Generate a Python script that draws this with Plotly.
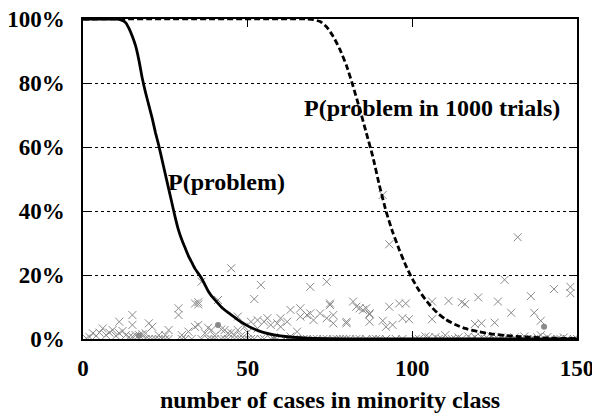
import plotly.graph_objects as go

# P(problem) curve (solid)
p_x = [0, 8, 10, 11, 12, 13, 14, 15, 16, 17, 18, 19, 20, 21, 22, 23, 24, 25, 26, 27, 28, 29, 30,
       31, 32, 33, 34, 35, 36, 37, 38, 39, 40, 42, 44, 46, 48, 50, 52, 55, 58, 62, 66, 70, 80, 90, 150]
p_y = [100, 100, 100, 99.9, 99.5, 98.8, 97, 94.5, 91.5, 87, 81.5, 77, 73, 69, 64.5, 60.5, 56, 51.5, 47,
       42.5, 38, 34, 31, 28.5, 26, 24, 22, 20.5, 19, 17, 15, 13.5, 12.3, 10, 8.3, 6.8, 5.3, 4.1, 3.1,
       2.0, 1.3, 0.7, 0.4, 0.2, 0.05, 0, 0]

# P(problem in 1000 trials) curve (dashed)
q_x = [0, 68, 70, 72, 74, 76, 78, 80, 82, 84, 86, 88, 90, 92, 94, 96, 98, 100, 102, 104, 106, 108,
       110, 113, 116, 120, 124, 128, 133, 140, 150]
q_y = [100, 100, 99.8, 99.2, 97.5, 94.5, 90.5, 85.5, 79, 72, 64.5, 57, 48, 40, 33.5, 28, 23, 18.8,
       15.2, 12.3, 9.8, 7.8, 6.2, 4.5, 3.3, 2.3, 1.6, 1.1, 0.7, 0.35, 0.1]

# observed cases (crosses)
obs_x = [1, 2, 3, 4, 5, 6, 7, 8, 9, 10, 11, 11, 12, 13, 14, 15, 15, 15, 16, 17, 18, 19, 20, 21, 23,
         25, 26, 29, 29, 30, 32, 34, 34, 35, 35, 35, 36,
         37, 38, 39, 40, 41, 42, 43, 44, 45, 45, 46, 47, 47, 48, 49, 50, 51, 52, 53, 53, 54, 55, 56,
         57, 58, 59, 60, 60, 62, 63, 63, 65, 66, 66, 68, 69, 69, 70, 72, 74, 74,
         75, 75, 76, 76, 80, 80, 82, 83, 84, 85, 86, 87, 87, 87, 91, 91, 93, 92, 93, 94, 96, 97,
         98, 99, 106, 106, 111, 110,
         115, 116, 119, 120, 121, 125, 126, 128, 130, 132, 136, 137, 139, 143, 148, 148,
         104, 105, 107, 114, 117, 119, 121, 124, 127, 131, 134, 138, 139, 141, 146]
obs_y = [0.2, 0.6, 1.8, 1.0, 2.0, 3.3, 1.2, 2.0, 2.8, 1.0, 5.4, 1.8, 2.5, 1.2, 0.6, 7.5, 4.4, 0.7,
         1.2, 1.2, 1.5, 1.8, 4.9, 3.8, 1.2, 1.2, 2.8, 7.5, 9.6, 1.2, 2.3, 3.8, 11.1, 11.5, 10.8, 4.4,
         17.9,
         1.8, 3.5, 2.8, 1.0, 12.2, 3.0, 2.8, 1.8, 22.1, 2.0, 1.2, 7.0, 2.8, 1.0, 3.8, 2.0, 5.4, 12.5,
         3.3, 5.9, 16.9, 5.4, 6.5, 4.4, 0.6, 4.9, 6.5, 3.8, 5.4, 9.1, 0.8, 2.3, 7.0, 9.6, 7.5, 16.3,
         8.0, 5.9, 8.0, 17.9, 6.5,
         11.1, 10.6, 7.5, 4.9, 5.4, 4.9, 11.7, 10.1, 9.6, 9.1, 9.6, 7.7, 5.4, 8.0, 5.7, 45.0, 29.6,
         3.8, 10.1, 4.4, 11.1, 6.5, 11.1, 6.2, 11.7, 6.2, 11.9, 1.2,
         11.5, 10.9, 4.7, 13.0, 4.9, 5.1, 11.7, 18.5, 8.2, 31.8, 13.4, 8.2, 5.7, 15.6, 16.3, 14.3,
         0.8, 0.5, 0.6, 0.5, 0.8, 0.6, 0.5, 0.8, 0.5, 0.5, 0.8, 0.5, 1.2, 0.6, 0.5]

# cases with zero observed frequency
zero_x = [19, 20, 21, 22, 23, 24, 25, 26, 30, 31, 33, 36, 38, 39, 40, 42, 43, 44, 46, 48, 49, 50,
          51, 52, 54, 55, 57, 58, 59, 61, 62, 64, 65, 67, 68, 70, 71, 73, 74, 76, 77, 78, 79, 80,
          81, 83, 84, 86, 88, 89, 90, 92, 95, 97, 101, 102, 108, 109, 112, 113, 115, 118, 122,
          123, 125, 126, 128, 129, 133, 135, 136, 137, 142, 144, 145, 147, 149, 150]
zero_y = [0] * len(zero_x)

# highlighted cases (dots)
dot_x = [17, 41, 140]
dot_y = [1.0, 4.4, 3.8]

x_ticks = [0, 50, 100, 150]
y_ticks = [0, 20, 40, 60, 80, 100]
y_labels = ["0%", "20%", "40%", "60%", "80%", "100%"]

GRAY = "#8a8a8a"
FONT = "Liberation Serif"

fig = go.Figure()
fig.add_trace(go.Scatter(x=obs_x, y=obs_y, mode="markers",
                         marker=dict(symbol="x-thin-open", size=8, color=GRAY,
                                     line=dict(width=1, color=GRAY))))
fig.add_trace(go.Scatter(x=zero_x, y=zero_y, mode="markers",
                         marker=dict(symbol="x-thin-open", size=8, color=GRAY,
                                     line=dict(width=1, color=GRAY))))
fig.add_trace(go.Scatter(x=dot_x, y=dot_y, mode="markers",
                         marker=dict(symbol="circle", size=6, color=GRAY)))
fig.add_trace(go.Scatter(x=p_x, y=p_y, mode="lines",
                         line=dict(color="black", width=2.8, shape="spline", smoothing=0.5)))
fig.add_trace(go.Scatter(x=q_x, y=q_y, mode="lines",
                         line=dict(color="black", width=2.8, dash="6px,3px",
                                   shape="spline", smoothing=0.5)))

fig.add_annotation(x=25.2, y=49, text="P(problem)", showarrow=False, xanchor="left",
                   yanchor="middle", font=dict(family=FONT, size=24, color="black", weight="bold"))
fig.add_annotation(x=66.4, y=72.2, text="P(problem in 1000 trials)", showarrow=False,
                   xanchor="left", yanchor="middle",
                   font=dict(family=FONT, size=24, color="black", weight="bold"))

# page body has an 8px margin, so the figure is shrunk/offset to land at the reference position
fig.update_layout(
    width=592, height=405,
    margin=dict(l=75, r=23, t=11, b=74),
    plot_bgcolor="white", paper_bgcolor="white",
    showlegend=False,
    font=dict(family=FONT, color="black", size=23, weight="bold"),
)
fig.update_xaxes(range=[0, 150], tickmode="array", tickvals=x_ticks, ticks="inside", ticklen=8,
                 tickcolor="black", showline=True, linecolor="black", linewidth=1.5,
                 mirror="ticks", showgrid=False, zeroline=False, automargin=False,
                 tickfont=dict(family=FONT, size=23, weight="bold"),
                 ticklabelstandoff=8, ticklabeloverflow="allow",
                 title=dict(text="number of cases in minority class",
                            font=dict(family=FONT, size=24, weight="bold"), standoff=17))
fig.update_yaxes(range=[0, 100], tickmode="array", tickvals=y_ticks, ticktext=y_labels,
                 ticks="inside", ticklen=8, tickcolor="black", showline=True,
                 linecolor="black", linewidth=1.5, mirror="ticks", automargin=False,
                 showgrid=True, gridcolor="black", griddash="dot", gridwidth=1,
                 zeroline=False, ticklabelstandoff=12, ticklabeloverflow="allow",
                 tickfont=dict(family=FONT, size=23, weight="bold"))

fig.write_html("out.html")
